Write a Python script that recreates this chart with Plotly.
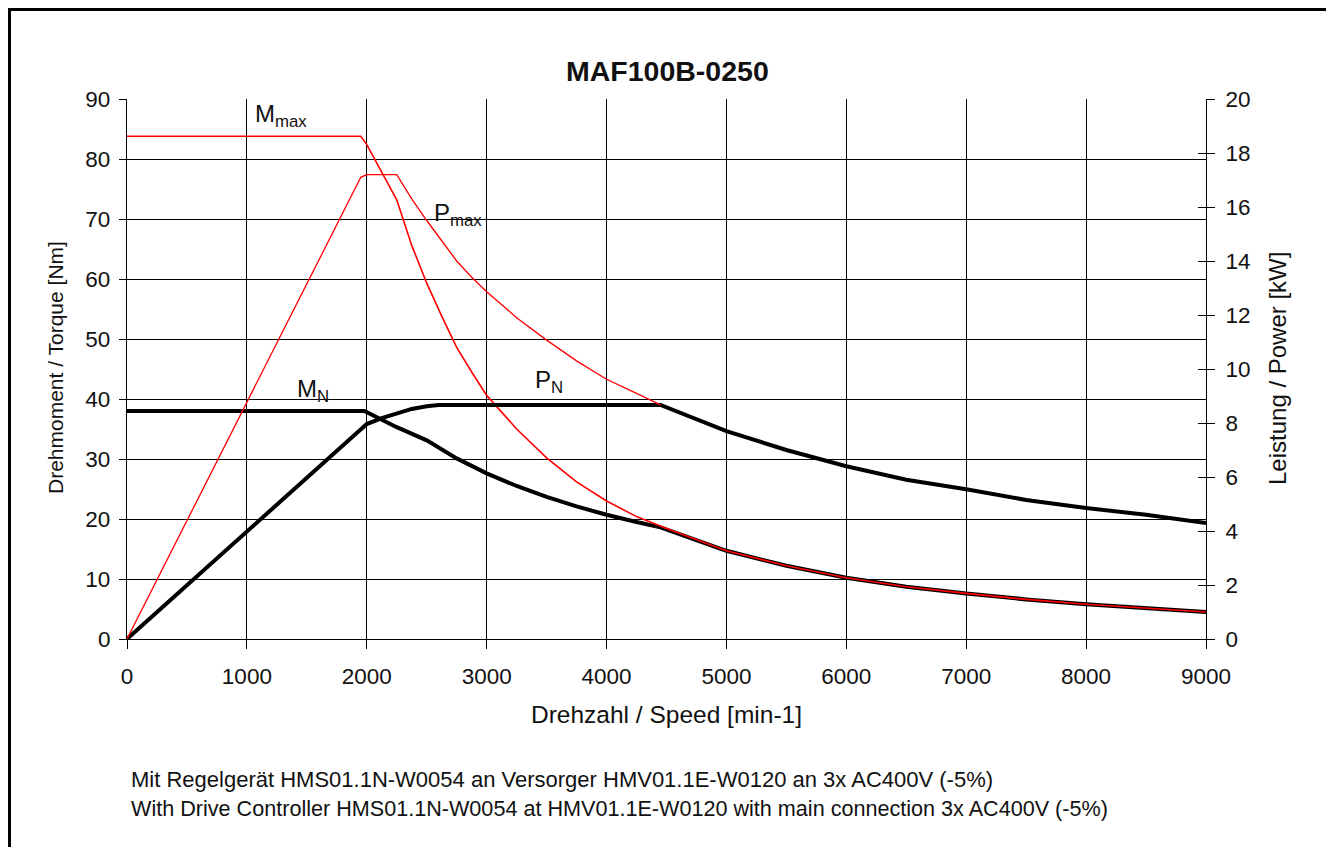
import plotly.graph_objects as go

# ---------------- data ----------------
speed_Mmax = [0, 1950, 2000, 2250, 2375, 2500, 2625, 2750, 2875, 3000, 3250, 3500, 3750,
              4000, 4250, 4500, 5000, 5500, 6000, 6500, 7000, 7500, 8000, 8500, 9000]
torque_Mmax = [83.8, 83.8, 82.4, 73.2, 65.6, 59.3, 53.8, 48.6, 44.5, 40.6, 35.0, 30.2, 26.2,
               23.0, 20.4, 18.4, 14.7, 12.2, 10.2, 8.7, 7.6, 6.6, 5.8, 5.1, 4.5]

speed_MN = [0, 1980, 2250, 2500, 2750, 3000, 3250, 3500, 3750, 4000, 4250, 4450,
            5000, 5500, 6000, 6500, 7000, 7500, 8000, 8500, 9000]
torque_MN = [38.0, 38.0, 35.3, 33.1, 30.1, 27.6, 25.5, 23.7, 22.1, 20.7, 19.5, 18.6,
             14.7, 12.2, 10.2, 8.7, 7.6, 6.6, 5.8, 5.1, 4.5]

speed_Pmax = [0, 1950, 2000, 2250, 2375, 2500, 2625, 2750, 2875, 3000, 3250, 3500, 3750,
              4000, 4250, 4450]
power_Pmax = [0, 17.1, 17.2, 17.2, 16.3, 15.5, 14.75, 14.0, 13.4, 12.86, 11.9, 11.07, 10.3,
              9.62, 9.1, 8.67]

speed_PN = [0, 2000, 2125, 2250, 2375, 2500, 2600, 3000, 3500, 4000, 4450, 5000, 5500, 6000,
            6500, 7000, 7500, 8000, 8500, 9000]
power_PN = [0, 7.96, 8.18, 8.36, 8.52, 8.62, 8.67, 8.67, 8.67, 8.67, 8.67, 7.7, 7.0, 6.4,
            5.9, 5.55, 5.15, 4.85, 4.6, 4.3]

x_ticks = [0, 1000, 2000, 3000, 4000, 5000, 6000, 7000, 8000, 9000]
torque_ticks = [0, 10, 20, 30, 40, 50, 60, 70, 80, 90]
power_ticks = [0, 2, 4, 6, 8, 10, 12, 14, 16, 18, 20]

title_text = "<b>MAF100B-0250</b>"
x_title = "Drehzahl / Speed [min-1]"
y_title = "Drehmoment / Torque [Nm]"
y2_title = "Leistung / Power [kW]"
note_1 = "Mit Regelgerät HMS01.1N-W0054 an Versorger HMV01.1E-W0120 an 3x AC400V (-5%)"
note_2 = "With Drive Controller HMS01.1N-W0054 at HMV01.1E-W0120 with main connection 3x AC400V (-5%)"

# ---------------- figure ----------------
FONT = "Liberation Sans, Arial, Helvetica, sans-serif"
INK = "#111111"

# the page body adds an 8 px offset; the figure is sized so the plot area lands
# at x 127..1206, y 99..639 of the window
FIG_W, FIG_H = 1326, 839
L, T = 119, 91
PW, PH = 1079, 540
R = FIG_W - L - PW
B = FIG_H - T - PH

fig = go.Figure()

fig.add_trace(go.Scatter(x=speed_PN, y=power_PN, yaxis="y2", mode="lines",
                         line=dict(color="black", width=4), showlegend=False, hoverinfo="skip"))
fig.add_trace(go.Scatter(x=speed_MN, y=torque_MN, mode="lines",
                         line=dict(color="black", width=4), showlegend=False, hoverinfo="skip"))
fig.add_trace(go.Scatter(x=speed_Pmax, y=power_Pmax, yaxis="y2", mode="lines",
                         line=dict(color="#ff0000", width=1.3), showlegend=False, hoverinfo="skip"))
fig.add_trace(go.Scatter(x=speed_Mmax, y=torque_Mmax, mode="lines",
                         line=dict(color="#ff0000", width=1.6), showlegend=False, hoverinfo="skip"))
# empty trace to carry the inner half of the right-axis cross ticks
fig.add_trace(go.Scatter(x=[], y=[], yaxis="y3", showlegend=False, hoverinfo="skip"))

axis_font = dict(family=FONT, size=22.5, color=INK)

fig.update_layout(
    width=FIG_W, height=FIG_H,
    paper_bgcolor="white", plot_bgcolor="white",
    margin=dict(l=L, r=R, t=T, b=B, pad=0),
    font=dict(family=FONT, color=INK),
    xaxis=dict(range=[0, 9000], tickvals=x_ticks, ticks="outside", ticklen=9, tickwidth=1.2,
               tickcolor="black", showgrid=True, gridcolor="black", gridwidth=1.2,
               showline=True, linecolor="black", linewidth=1.2, zeroline=False,
               tickfont=axis_font, ticklabelstandoff=8),
    yaxis=dict(range=[0, 90], tickvals=torque_ticks, ticks="outside", ticklen=7, tickwidth=1.2,
               tickcolor="black", showgrid=True, gridcolor="black", gridwidth=1.2,
               showline=True, linecolor="black", linewidth=1.2, zeroline=False,
               tickfont=axis_font, ticklabelstandoff=4),
    yaxis2=dict(range=[0, 20], tickvals=power_ticks, overlaying="y", side="right",
                ticks="outside", ticklen=8, tickwidth=1.2, tickcolor="black",
                showgrid=False, showline=True, linecolor="black", linewidth=1.2,
                zeroline=False, tickfont=axis_font, ticklabelstandoff=6),
    yaxis3=dict(range=[0, 20], tickvals=power_ticks, overlaying="y", side="right",
                ticks="inside", ticklen=8, tickwidth=1.2, tickcolor="black",
                showticklabels=False, showgrid=False, showline=False, zeroline=False),
)

# frame around the whole picture (figure pixel -> paper fraction)
def px_x(p):
    return (p - L) / PW

def px_y(p):
    return (T + PH - p) / PH

fig.add_shape(type="rect", xref="paper", yref="paper",
              x0=px_x(1.5), x1=px_x(1319.5), y0=px_y(860), y1=px_y(1.5),
              line=dict(color="black", width=3), fillcolor="rgba(0,0,0,0)", layer="above")

def ann(text, x, y, size, xref="paper", yref="paper", xanchor="center", yanchor="middle",
        angle=0, align="center"):
    fig.add_annotation(text=text, x=x, y=y, xref=xref, yref=yref, xanchor=xanchor,
                       yanchor=yanchor, textangle=angle, showarrow=False, align=align,
                       font=dict(family=FONT, size=size, color=INK))

# positions given in window pixels, converted (window = figure + 8)
ann(title_text, px_x(667 - 8), px_y(71 - 8), 28.5)
ann(x_title, px_x(666 - 8), px_y(714 - 8), 24.5)
ann(y_title, px_x(55 - 8), px_y(368 - 8), 21, angle=-90)
ann(y2_title, px_x(1277 - 8), px_y(369 - 8), 24, angle=-90)
ann(note_1, px_x(129 - 8), px_y(779 - 8), 22, xanchor="left")
ann(note_2, px_x(129 - 8), px_y(808 - 8), 21.6, xanchor="left")

# curve labels (data coordinates)
ann("M<sub>max</sub>", 1050, 87.3, 24, xref="x", yref="y", xanchor="left")
ann("P<sub>max</sub>", 2545, 70.7, 24, xref="x", yref="y", xanchor="left")
ann("M<sub>N</sub>", 1402, 41.5, 24, xref="x", yref="y", xanchor="left")
ann("P<sub>N</sub>", 3385, 42.9, 24, xref="x", yref="y", xanchor="left")

fig.write_html("out.html")
